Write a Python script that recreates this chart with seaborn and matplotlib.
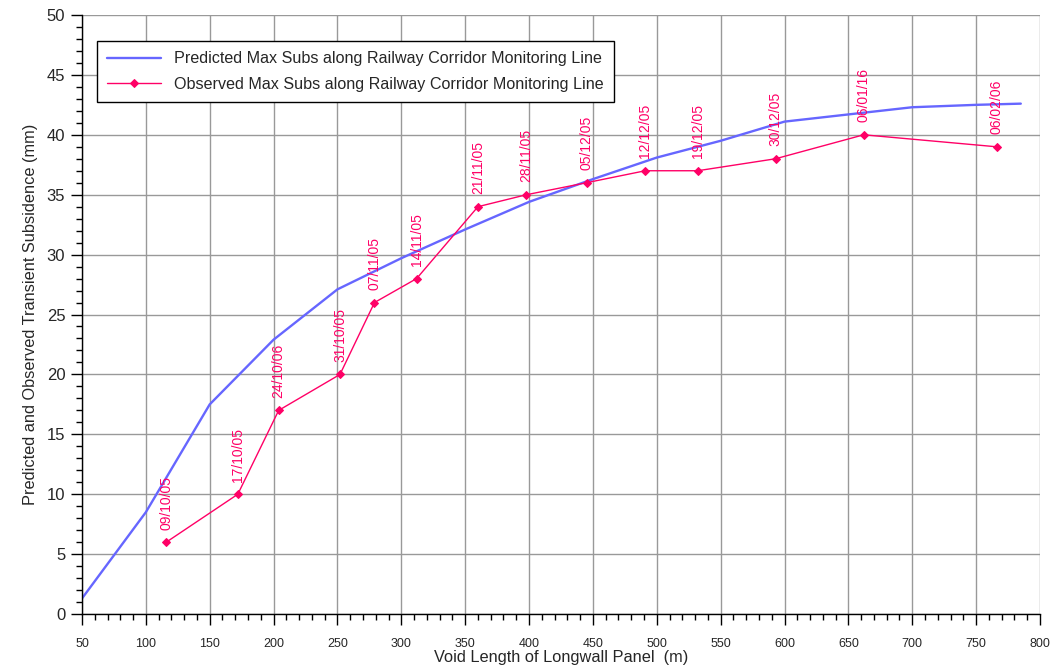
import pandas as pd
import matplotlib
matplotlib.use("Agg")
import matplotlib.pyplot as plt
import seaborn as sns
from matplotlib.ticker import MultipleLocator

# predicted curve
pred_x = [50, 100, 150, 200, 250, 300, 350, 400, 450, 500, 550, 600, 650, 700, 750, 785]
pred_y = [1.3, 8.5, 17.5, 22.9, 27.1, 29.7, 32.1, 34.4, 36.3, 38.1, 39.5, 41.1, 41.7, 42.3, 42.5, 42.6]

# observed survey points
obs_x = [116, 172, 204, 252, 279, 312, 360, 398, 445, 491, 532, 593, 662, 766]
obs_y = [6, 10, 17, 20, 26, 28, 34, 35, 36, 37, 37, 38, 40, 39]
obs_dates = ["09/10/05", "17/10/05", "24/10/06", "31/10/05", "07/11/05", "14/11/05",
             "21/11/05", "28/11/05", "05/12/05", "12/12/05", "19/12/05", "30/12/05",
             "06/01/16", "06/02/06"]

pred_label = "Predicted Max Subs along Railway Corridor Monitoring Line"
obs_label = "Observed Max Subs along Railway Corridor Monitoring Line"

blue = "#6666ff"
pink = "#ff0066"

sns.set_style("ticks")
plt.rcParams['font.family'] = ['Liberation Sans', 'DejaVu Sans']

pred = pd.DataFrame({"x": pred_x, "y": pred_y})
obs = pd.DataFrame({"x": obs_x, "y": obs_y})

fig = plt.figure(figsize=(10.51, 6.66), dpi=100)
ax = fig.add_axes([0.078, 0.078, 0.9115, 0.8995])

sns.lineplot(data=pred, x="x", y="y", color=blue, linewidth=1.7, label=pred_label, ax=ax)
sns.lineplot(data=obs, x="x", y="y", color=pink, linewidth=1.0, marker="D", markersize=4,
             markeredgecolor=pink, label=obs_label, ax=ax)

# date labels above observed points
for x, y, d in zip(obs_x, obs_y, obs_dates):
    ax.annotate(d, (x, y), xytext=(0, 9), textcoords="offset points", rotation=90,
                ha="center", va="bottom", color=pink, fontsize=10)

ax.set_xlim(50, 800)
ax.set_ylim(0, 50)
ax.xaxis.set_major_locator(MultipleLocator(50))
ax.xaxis.set_minor_locator(MultipleLocator(10))
ax.yaxis.set_major_locator(MultipleLocator(5))
ax.yaxis.set_minor_locator(MultipleLocator(1))
ax.grid(True, which="major", color="#999999", linewidth=1.0)
ax.set_axisbelow(True)
ax.tick_params(which="major", direction="out", length=8, width=1, color="black")
ax.tick_params(which="minor", direction="out", length=4, width=1, color="black")
ax.tick_params(axis="x", labelsize=9, pad=9)
ax.tick_params(axis="y", labelsize=12, pad=4)

for s in ["top", "right"]:
    ax.spines[s].set_visible(False)
for s in ["left", "bottom"]:
    ax.spines[s].set_color("black")
    ax.spines[s].set_linewidth(1.0)

ax.set_xlabel("Void Length of Longwall Panel  (m)", fontsize=11.8, labelpad=0)
ax.set_ylabel("Predicted and Observed Transient Subsidence (mm)", fontsize=11.8, labelpad=6)

leg = ax.legend(loc="upper left", bbox_to_anchor=(0.0157, 0.957), fontsize=11.6, frameon=True,
                fancybox=False, edgecolor="black", framealpha=1, handlelength=3.3,
                borderpad=0.65, labelspacing=0.65, borderaxespad=0)
leg.get_frame().set_linewidth(1.0)

fig.savefig("out.png", dpi=100)
